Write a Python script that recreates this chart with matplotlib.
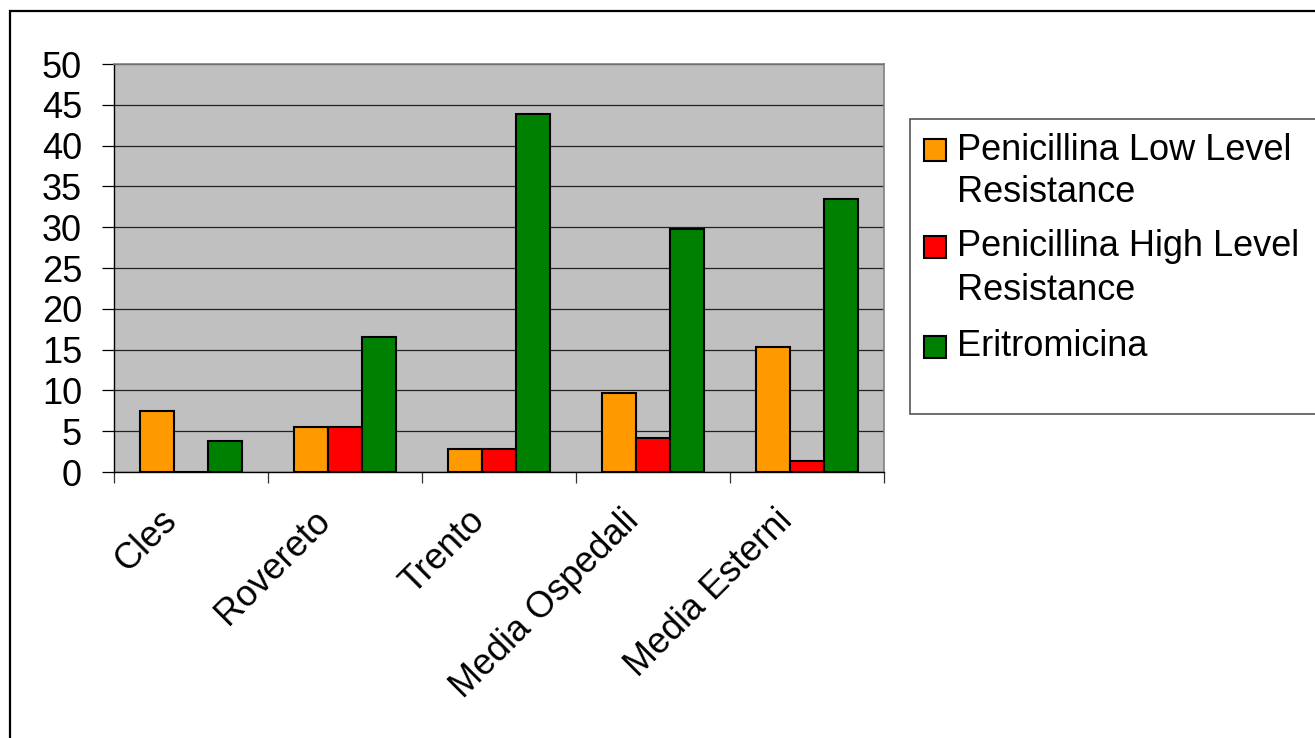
import matplotlib
matplotlib.use("Agg")
import matplotlib.pyplot as plt
import matplotlib.transforms as mtransforms
from matplotlib.patches import Rectangle
import numpy as np

# Data
categories = ["Cles", "Rovereto", "Trento", "Media Ospedali", "Media Esterni"]
series_names = ["Penicillina Low Level\nResistance",
                "Penicillina High Level\nResistance",
                "Eritromicina"]
pen_low = [7.5, 5.5, 2.8, 9.7, 15.3]
pen_high = [0.0, 5.5, 2.8, 4.2, 1.3]
eritro = [3.8, 16.5, 43.9, 29.8, 33.4]
yticks = [0, 5, 10, 15, 20, 25, 30, 35, 40, 45, 50]

colors = ["#FF9900", "#FF0000", "#008000"]
FONT = "Liberation Sans"
FS = 26

W, H = 1315, 738
fig = plt.figure(figsize=(W / 100, H / 100), dpi=100)
fig.patch.set_facecolor("white")

# outer chart frame (open to the right and bottom)
fig.patches.append(Rectangle((10 / W, -0.1), 1.2, 1.1 - 11 / H,
                             transform=fig.transFigure, fill=False,
                             edgecolor="black", linewidth=1.6, zorder=0))

# plot area
left, right, top, bottom = 114, 884, 64, 472
ax = fig.add_axes([left / W, 1 - bottom / H, (right - left) / W, (bottom - top) / H])
ax.set_facecolor("#C0C0C0")

x = np.arange(len(categories))
bw = 1 / 4.5
for i, vals in enumerate([pen_low, pen_high, eritro]):
    ax.bar(x + (i - 1) * bw, vals, width=bw, color=colors[i],
           edgecolor="black", linewidth=1.5, zorder=3)

ax.set_xlim(-0.5, len(categories) - 0.5)
ax.set_ylim(0, 50)
ax.set_yticks(yticks)
ax.set_yticklabels([str(v) for v in yticks], fontfamily=FONT, fontsize=FS)
ax.yaxis.grid(True, color="#222222", linewidth=0.9, zorder=1)
ax.set_axisbelow(True)

ax.tick_params(axis="y", direction="out", length=9, width=0.9, pad=14, color="black")

# category boundaries as minor ticks, labels at centres
ax.set_xticks(np.arange(-0.5, len(categories), 1.0), minor=True)
ax.set_xticks(x)
ax.set_xticklabels(categories, fontfamily=FONT, fontsize=FS, rotation=45,
                   ha="right", va="top", rotation_mode="anchor")
ax.tick_params(axis="x", which="major", length=0, pad=0)
ax.tick_params(axis="x", which="minor", direction="out", length=8, width=0.9, color="#333333")
offset = mtransforms.ScaledTranslation(-0.32, -0.31, fig.dpi_scale_trans)
for lbl in ax.get_xticklabels():
    lbl.set_transform(lbl.get_transform() + offset)

for side in ["top", "right"]:
    ax.spines[side].set_color("#808080")
    ax.spines[side].set_linewidth(1.2)
for side in ["left", "bottom"]:
    ax.spines[side].set_color("black")
    ax.spines[side].set_linewidth(1.0)

# legend box
fig.patches.append(Rectangle((910 / W, 1 - 414 / H), 1.0, (414 - 119) / H,
                             transform=fig.transFigure, facecolor="white",
                             edgecolor="#555555", linewidth=1.2, zorder=1))
entry_tops = [150, 247, 347]
line_gap = 43
for name, col, yc in zip(series_names, colors, entry_tops):
    fig.patches.append(Rectangle((924 / W, 1 - (yc + 11) / H), 22 / W, 22 / H,
                                 transform=fig.transFigure, facecolor=col,
                                 edgecolor="black", linewidth=1.5, zorder=2))
    for k, line in enumerate(name.split("\n")):
        fig.text(957 / W, 1 - (yc + k * line_gap) / H, line, fontfamily=FONT,
                 fontsize=FS, ha="left", va="center", zorder=3)

fig.savefig("out.png", dpi=100)
